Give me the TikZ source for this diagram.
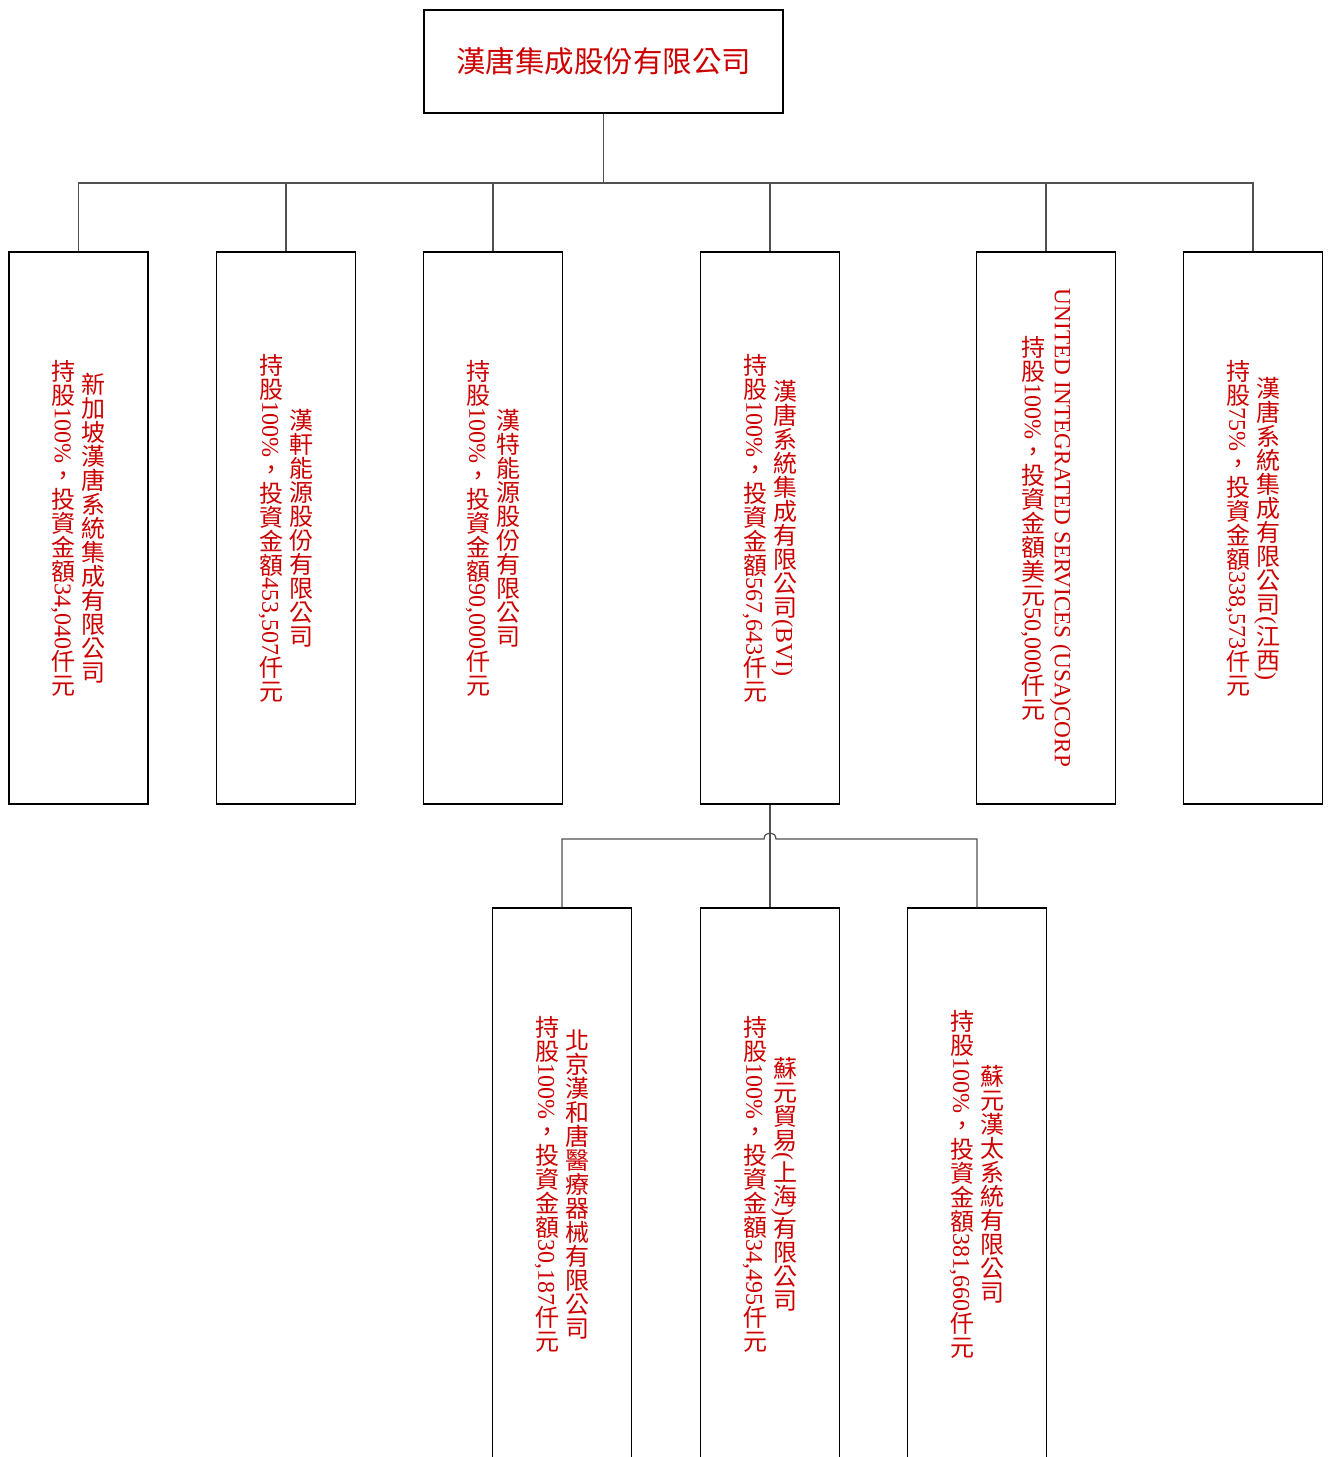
\documentclass[tikz,border=0pt]{standalone}
\usepackage{fontspec}
\setmainfont{Liberation Serif}
\newfontfamily\cjk{Noto Sans CJK TC}
\usepackage{graphicx}
\definecolor{txtred}{RGB}{204,0,0}
\definecolor{lineg}{RGB}{80,80,80}
\makeatletter
\newcommand{\R}[1]{{\cjk\@tfor\vch:=#1\do{\rotatebox[origin=c]{90}{\vch\rule[-0.12em]{0pt}{1em}}}}}
\makeatother
\tikzset{
  box/.style={draw=black,line width=1.2pt,minimum width=139pt,minimum height=552pt,inner sep=0pt},
  vtext/.style={rotate=-90,align=center,text=txtred,font=\fontsize{24}{30}\selectfont,inner sep=0pt},
  conn/.style={draw=lineg,line width=1.2pt}
}
\begin{document}
\begin{tikzpicture}[x=1pt,y=-1pt]
\clip (0,0) rectangle (1329,1457);
\fill[white] (0,0) rectangle (1329,1457);
% top
\node[draw=black,line width=1.2pt,minimum width=359pt,minimum height=103pt,inner sep=0pt,text=txtred,font=\cjk\fontsize{29.5}{34}\selectfont] (top) at (603.5,61.5) {漢唐集成股份有限公司};
% level 1 boxes
\node[box] (b1) at (78.5,528) {};
\node[box] (b2) at (286,528) {};
\node[box] (b3) at (493,528) {};
\node[box] (b4) at (770,528) {};
\node[box] (b5) at (1046,528) {};
\node[box] (b6) at (1253,528) {};
% level 2 boxes
\node[box] (c1) at (562,1184) {};
\node[box] (c2) at (770,1184) {};
\node[box] (c3) at (977,1184) {};
% texts
\node[vtext] (t1) at (b1.center) {\R{新加坡漢唐系統集成有限公司}\\\R{持股}100\%\R{，投資金額}34,040\R{仟元}};
\node[vtext] (t2) at (b2.center) {\R{漢軒能源股份有限公司}\\\R{持股}100\%\R{，投資金額}453,507\R{仟元}};
\node[vtext] (t3) at (b3.center) {\R{漢特能源股份有限公司}\\\R{持股}100\%\R{，投資金額}90,000\R{仟元}};
\node[vtext] (t4) at (b4.center) {\R{漢唐系統集成有限公司}(BVI)\\\R{持股}100\%\R{，投資金額}567,643\R{仟元}};
\node[vtext] (t5) at (b5.center) {{\fontsize{23.2}{30}\selectfont UNITED INTEGRATED SERVICES (USA)CORP}\\\R{持股}100\%\R{，投資金額美元}50,000\R{仟元}};
\node[vtext] (t6) at (b6.center) {\R{漢唐系統集成有限公司}(\R{江西})\\\R{持股}75\%\R{，投資金額}338,573\R{仟元}};
\node[vtext] (s1) at (c1.center) {\R{北京漢和唐醫療器械有限公司}\\\R{持股}100\%\R{，投資金額}30,187\R{仟元}};
\node[vtext] (s2) at (c2.center) {\R{蘇元貿易}(\R{上海})\R{有限公司}\\\R{持股}100\%\R{，投資金額}34,495\R{仟元}};
\node[vtext] (s3) at (c3.center) {\R{蘇元漢太系統有限公司}\\\R{持股}100\%\R{，投資金額}381,660\R{仟元}};
% connectors level 1
\coordinate (bus) at (603.5,183);
\draw[conn] (top.south) -- (bus);
\foreach \b in {b1,b2,b3,b4,b5,b6} \draw[conn] (bus) -| (\b.north);
% connectors level 2
\coordinate (bus2) at (770,839);
\draw[conn] (b4.south) -- (c2.north);
\draw[conn] (c1.north) |- ([xshift=-6pt]bus2) .. controls +(0,-8) and +(0,-8) .. ([xshift=6pt]bus2) -| (c3.north);
\end{tikzpicture}
\end{document}
